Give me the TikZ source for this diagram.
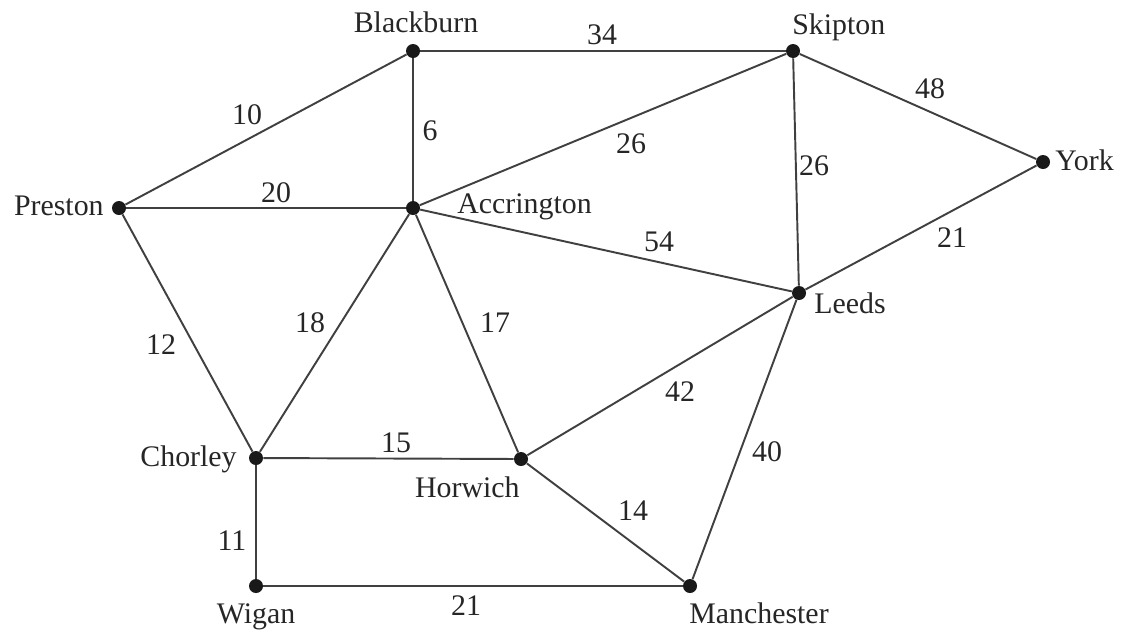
\documentclass[tikz,border=0pt]{standalone}
\usepackage{fontspec}
\setmainfont{Liberation Serif}
\newfontfamily\townfont{Liberation Serif}
\begin{document}
\begin{tikzpicture}[x=0.02cm,y=-0.02cm,
  town/.style={circle, fill=black!90, inner sep=0pt, minimum size=0.28cm},
  road/.style={draw=black!75, line width=1.1pt},
  townlabel/.style={text=black!85, inner sep=0pt, font=\townfont\fontsize{17}{20}\selectfont},
  distlabel/.style={text=black!85, inner sep=0pt, font=\townfont\fontsize{17}{20}\selectfont}]
\useasboundingbox (0,0) rectangle (1124,633);
% towns
\node[town] (bla) at (413,51){};
\node[town] (ski) at (793,51){};
\node[town] (yor) at (1043,162){};
\node[town] (pre) at (119,208){};
\node[town] (acc) at (413,208){};
\node[town] (lee) at (799,293){};
\node[town] (cho) at (256,458){};
\node[town] (hor) at (521,459){};
\node[town] (wig) at (256,586){};
\node[town] (man) at (690,586){};
% town names
\node[townlabel, anchor=base] (nbla) at (416,32){Blackburn};
\node[townlabel, anchor=base west] (nski) at (792,34){Skipton};
\node[townlabel, anchor=base west] (nyor) at (1055,170){York};
\node[townlabel, anchor=base east] (npre) at (104,215){Preston};
\node[townlabel, anchor=base west] (nacc) at (457,213){Accrington};
\node[townlabel, anchor=base west] (nlee) at (814,313){Leeds};
\node[townlabel, anchor=base east] (ncho) at (237,466){Chorley};
\node[townlabel, anchor=base east] (nhor) at (520,497){Horwich};
\node[townlabel, anchor=base] (nwig) at (256,623){Wigan};
\node[townlabel, anchor=base west] (nman) at (689,623){Manchester};
% roads
\draw[road] (pre) -- (bla);
\draw[road] (bla) -- (ski);
\draw[road] (bla) -- (acc);
\draw[road] (ski) -- (yor);
\draw[road] (ski) -- (acc);
\draw[road] (ski) -- (lee);
\draw[road] (pre) -- (acc);
\draw[road] (acc) -- (lee);
\draw[road] (yor) -- (lee);
\draw[road] (pre) -- (cho);
\draw[road] (acc) -- (cho);
\draw[road] (acc) -- (hor);
\draw[road] (lee) -- (hor);
\draw[road] (lee) -- (man);
\draw[road] (cho) -- (hor);
\draw[road] (hor) -- (man);
\draw[road] (cho) -- (wig);
\draw[road] (wig) -- (man);
% distances
\node[distlabel] (dprebla) at (247,115){10};
\node[distlabel] (dblaacc) at (430,131){6};
\node[distlabel] (dpreacc) at (276,193){20};
\node[distlabel] (dblaski) at (602,35){34};
\node[distlabel] (daccski) at (631,144){26};
\node[distlabel] (dskiyor) at (930,89){48};
\node[distlabel] (dskilee) at (814,166){26};
\node[distlabel] (dacclee) at (659,242){54};
\node[distlabel] (dyorlee) at (952,238){21};
\node[distlabel] (dprecho) at (161,345){12};
\node[distlabel] (dacccho) at (310,323){18};
\node[distlabel] (dacchor) at (495,323){17};
\node[distlabel] (dchohor) at (396,443){15};
\node[distlabel] (dchowig) at (232,541){11};
\node[distlabel] (dwigman) at (466,606){21};
\node[distlabel] (dleehor) at (680,392){42};
\node[distlabel] (dleeman) at (767,452){40};
\node[distlabel] (dhorman) at (633,511){14};
\end{tikzpicture}
\end{document}
